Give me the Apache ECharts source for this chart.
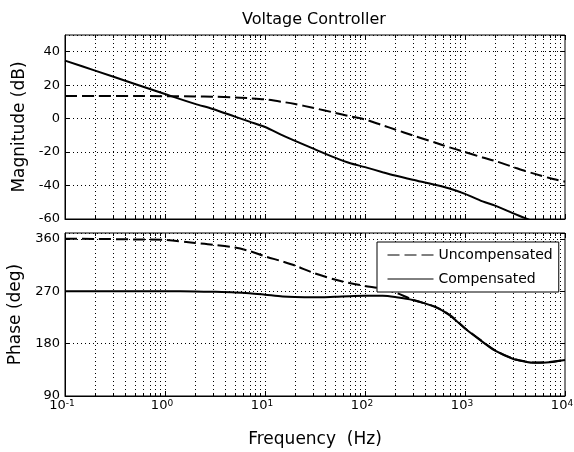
<!DOCTYPE html>
<html><head><meta charset="utf-8">
<script src="https://cdn.jsdelivr.net/npm/echarts@6/dist/echarts.min.js"></script>
<style>html,body{margin:0;padding:0;background:#fff}#c{width:574px;height:452px}</style>
</head><body><div id="c"></div>
<script>
// ---- data ----
const titleText = 'Voltage Controller';
const seriesNames = ['Uncompensated', 'Compensated'];
const freq =        [0.1, 0.2, 0.5, 1, 2, 3, 5, 7, 10, 15, 20, 30, 50, 70, 100, 150, 200, 300, 500, 700, 1000, 1500, 2000, 3000, 4000, 5000, 7000, 10000];
const magUncomp =   [13.5, 13.5, 13.5, 13.4, 13.3, 13.1, 12.7, 12.2, 11.5, 10, 8.7, 6.5, 3.5, 1.5, -0.5, -4, -6.5, -10, -14.3, -17.2, -20, -23.2, -25.3, -28.8, -31.3, -33, -35.5, -37.7];
const magComp =     [34.7, 28.7, 20.7, 14.7, 8.8, 5.8, 1.2, -1.8, -5, -10, -13.3, -17.8, -23.3, -26.5, -29, -32, -34, -36.5, -39.5, -41.8, -45, -49.5, -52, -56.5, -59.5, -62, -66, -70];
const phaseUncomp = [360, 359.8, 359, 358, 353, 350, 345, 339, 330, 321, 314, 302, 290, 284, 279, 274, 268, 255.5, 243.5, 229.5, 206.5, 183.5, 168.5, 154.5, 149.5, 147.5, 148.5, 152];
const phaseComp =   [270, 270, 270, 270, 269.5, 269, 268, 266.5, 264, 261, 260, 259.5, 260.5, 261.5, 262, 262, 260, 255, 243, 229, 206, 183, 168, 154, 149, 147, 148, 152];
const xRange = [0.1, 10000];
const magRange = [-60, 50, 20];
const phaseRange = [90, 370, 90];
const magLabel = 'Magnitude (dB)';
const phaseLabel = 'Phase (deg)';
const freqLabel = 'Frequency  (Hz)';

// log-axis tick positions (decades and 2..9 multiples)
const decades = [0.1, 1, 10, 100, 1000, 10000];
const tickFreqs = [];
decades.forEach((d, i) => {
  tickFreqs.push([d, 1]);
  if (i < decades.length - 1) for (let m = 2; m <= 9; m++) tickFreqs.push([+(d * m).toPrecision(3), 0]);
});

const FONT = 'DejaVu Sans';
const gridBase = {show: true, borderColor: '#000', borderWidth: 1, backgroundColor: '#fff', outerBoundsMode: 'none', containLabel: false};
const grids = [
  Object.assign({left: 65, top: 35, width: 500, height: 184}, gridBase),
  Object.assign({left: 65, top: 233, width: 500, height: 163}, gridBase)
];

function xAx(gi, showLabel) {
  return {
    type: 'log', logBase: 10, gridIndex: gi, min: xRange[0], max: xRange[1],
    axisLine: {show: true, onZero: false, lineStyle: {color: '#000'}},
    axisTick: {show: false}, splitLine: {show: false},
    axisLabel: showLabel ? {
      show: true, margin: 3, color: '#000', showMinLabel: true, showMaxLabel: true, hideOverlap: false,
      padding: [0, 6, 0, 0],
      formatter: v => '{b|10}{s|' + Math.round(Math.log10(v)) + '}',
      rich: {
        b: {fontFamily: FONT, fontSize: 13, color: '#000', lineHeight: 13, verticalAlign: 'bottom'},
        s: {fontFamily: FONT, fontSize: 9, color: '#000', lineHeight: 9, verticalAlign: 'top', padding: [0, 0, 14, 0]}
      }
    } : {show: false},
    name: showLabel ? freqLabel : '', nameLocation: 'middle', nameGap: 35,
    nameTextStyle: {fontFamily: FONT, fontSize: 17, color: '#000'}
  };
}
function yAx(gi, r, name, right) {
  return {
    type: 'value', gridIndex: gi, min: r[0], max: r[1], interval: r[2],
    position: right ? 'right' : 'left',
    axisLine: {show: !right, onZero: false, lineStyle: {color: '#000'}},
    axisTick: {show: true, inside: true, length: 5, lineStyle: {color: '#000'}},
    splitLine: {show: !right, lineStyle: {color: '#000', type: [1, 3], width: 1}},
    axisLabel: right ? {show: false} : {show: true, margin: 5, color: '#000', fontFamily: FONT, fontSize: 13, showMaxLabel: false},
    name: right ? '' : name, nameLocation: 'middle', nameGap: 33,
    nameTextStyle: {fontFamily: FONT, fontSize: 17, color: '#000'}
  };
}

function tickSeries(xi, yi) {
  return {
    type: 'custom', xAxisIndex: xi, yAxisIndex: yi, silent: true, z: 1,
    data: tickFreqs,
    renderItem: (params, api) => {
      const cs = params.coordSys;
      let x = api.coord([api.value(0), 0])[0];
      x = Math.round(x) + 0.5;
      const len = api.value(1) ? 5 : 3;
      const top = cs.y, bot = cs.y + cs.height;
      const kids = [
        {type: 'line', shape: {x1: x, y1: bot, x2: x, y2: bot - len}, style: {stroke: '#000', lineWidth: 1}},
        {type: 'line', shape: {x1: x, y1: top, x2: x, y2: top + len}, style: {stroke: '#000', lineWidth: 1}}
      ];
      if (x > cs.x + 1 && x < cs.x + cs.width - 1) {
        kids.unshift({type: 'line', shape: {x1: x, y1: top, x2: x, y2: bot}, style: {stroke: '#000', lineWidth: 1, lineDash: [1, 3]}});
      }
      return {type: 'group', children: kids};
    }
  };
}

function lineSeries(name, xi, yi, vals, dashed) {
  return {
    name, type: 'line', xAxisIndex: xi, yAxisIndex: yi, z: 3,
    data: freq.map((f, i) => [f, vals[i]]),
    symbol: 'none', showSymbol: false, smooth: 0.3, clip: true,
    itemStyle: {color: '#000'},
    lineStyle: {color: '#000', width: 2, type: dashed ? [12, 5] : 'solid'}
  };
}

const chart = echarts.init(document.getElementById('c'), null, {renderer: 'canvas'});
chart.setOption({
  animation: false,
  backgroundColor: '#fff',
  title: {text: titleText, left: 242, top: 12, padding: 0,
    textStyle: {fontFamily: FONT, fontSize: 16, fontWeight: 'normal', color: '#000'}},
  legend: {
    data: seriesNames, orient: 'vertical', left: 377, top: 242,
    padding: [6, 6, 6, 10], itemGap: 10, itemWidth: 46, itemHeight: 14,
    backgroundColor: '#fff', borderColor: '#000', borderWidth: 1, borderRadius: 0,
    textStyle: {fontFamily: FONT, fontSize: 14, color: '#000'},
    itemStyle: {color: 'rgba(0,0,0,0)', borderWidth: 0, opacity: 0},
    lineStyle: {width: 1, color: '#000', opacity: 1}
  },
  grid: grids,
  xAxis: [xAx(0, false), xAx(1, true)],
  yAxis: [yAx(0, magRange, magLabel, false), yAx(0, magRange, '', true), yAx(1, phaseRange, phaseLabel, false), yAx(1, phaseRange, '', true)],
  series: [
    tickSeries(0, 0), tickSeries(1, 2),
    lineSeries(seriesNames[0], 0, 0, magUncomp, true),
    lineSeries(seriesNames[1], 0, 0, magComp, false),
    lineSeries(seriesNames[0], 1, 2, phaseUncomp, true),
    lineSeries(seriesNames[1], 1, 2, phaseComp, false)
  ]
});
</script></body></html>
